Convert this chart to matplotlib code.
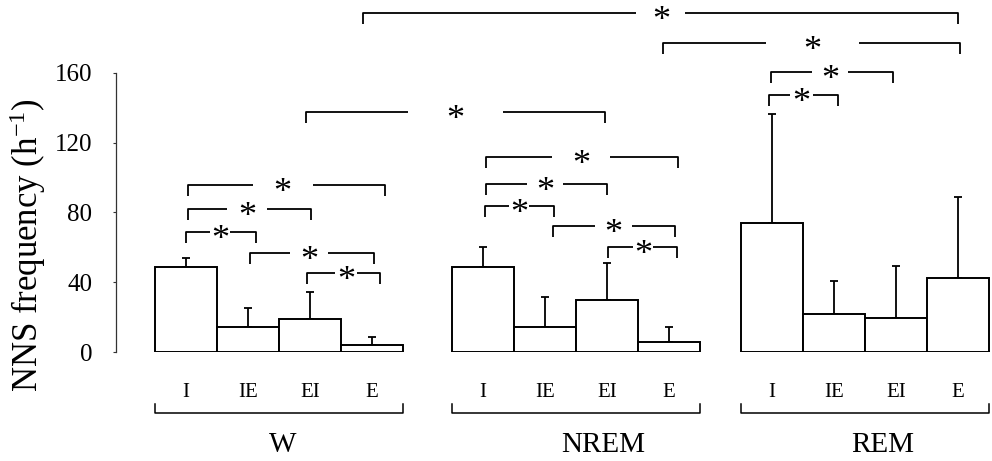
import matplotlib
matplotlib.use('Agg')
import matplotlib.pyplot as plt
import numpy as np

# データ
states = ['W', 'NREM', 'REM']
phases = ['I', 'IE', 'EI', 'E']
w_mean = [48.7, 14.3, 18.9, 4.0]
w_sd = [5.2, 10.9, 15.5, 4.6]
nrem_mean = [48.7, 14.3, 29.8, 5.7]
nrem_sd = [11.5, 17.2, 21.2, 8.6]
rem_mean = [74.0, 21.8, 19.5, 42.4]
rem_sd = [62.5, 18.9, 29.8, 46.5]
y_ticks = [0, 40, 80, 120, 160]

# 有意差ブラケット: (bar a, bar b, height)
comparisons = [
    (0, 1, 68.8), (0, 2, 82.0), (0, 3, 95.8), (1, 3, 56.8), (2, 3, 45.3),
    (2, 6, 137.6),
    (4, 7, 111.8), (4, 6, 96.3), (4, 5, 83.7), (5, 7, 72.2), (6, 7, 60.2),
    (8, 9, 147.4), (8, 10, 160.6), (7, 11, 177.2), (3, 11, 194.4),
]
# 描画用の微調整: (left offset, right offset, star x, gap width)
bracket_layout = [
    (0.0, 0.13, 1.68, 0.32), (0.03, 0.02, 2.11, 0.65), (0.03, 0.21, 2.69, 0.97),
    (0.03, 0.03, 3.11, 0.61), (-0.05, 0.12, 3.71, 0.35),
    (-0.07, -0.03, 5.47, 1.53),
    (0.05, 0.14, 7.50, 0.94), (0.05, 0.0, 6.92, 0.58), (0.03, 0.14, 6.50, 0.31),
    (0.13, 0.10, 8.02, 0.60), (0.02, 0.13, 8.50, 0.32),
    (-0.05, 0.06, 11.05, 0.37), (-0.02, -0.05, 11.52, 0.58),
    (-0.10, 0.03, 11.23, 1.50), (-0.15, 0.0, 8.79, 0.79),
]

plt.rcParams['font.family'] = ['Liberation Serif', 'DejaVu Serif']
plt.rcParams['mathtext.fontset'] = 'custom'
plt.rcParams['mathtext.rm'] = 'Liberation Serif'
plt.rcParams['mathtext.default'] = 'regular'

fig = plt.figure(figsize=(9.92, 4.61), dpi=100)
ax = fig.add_axes([116 / 992, 109 / 461, 876 / 992, 352 / 461])

group_start = [1.13, 5.92, 10.58]
means = [w_mean, nrem_mean, rem_mean]
sds = [w_sd, nrem_sd, rem_sd]

positions = []
for g in range(len(states)):
    x = group_start[g] + np.arange(len(phases))
    positions.extend(x)
    ax.bar(x, means[g], width=1.0, color='white', edgecolor='black', linewidth=1.4, zorder=2)
    ax.errorbar(x, means[g], yerr=[np.zeros(len(phases)), sds[g]], fmt='none',
                ecolor='black', elinewidth=1.3, capsize=3, capthick=1.3, zorder=1)
positions = np.array(positions)

lw = 1.3
tick_h = 6.5
for (a, b, h), (dl, dr, sx, gap) in zip(comparisons, bracket_layout):
    xl = positions[a] + dl
    xr = positions[b] + dr
    ax.plot([xl, xl, sx - gap / 2], [h - tick_h, h, h], color='black', lw=lw,
            clip_on=False, solid_capstyle='butt')
    ax.plot([sx + gap / 2, xr, xr], [h, h, h - tick_h], color='black', lw=lw,
            clip_on=False, solid_capstyle='butt')
    ax.text(sx, h - 5.0, '*', ha='center', va='center', fontsize=26, clip_on=False)

# 下部のラベルとブラケット
for g, state in enumerate(states):
    x = group_start[g] + np.arange(len(phases))
    for xi, p in zip(x, phases):
        ax.text(xi, -23.5, p, ha='center', va='center', fontsize=15, clip_on=False)
    xl, xr = x[0] - 0.5, x[-1] + 0.5
    ax.plot([xl, xl, xr, xr], [-30, -35, -35, -30], color='black', lw=1.1, clip_on=False)

label_x = [2.69, 7.85, 12.37]
for lx, state in zip(label_x, states):
    ax.text(lx, -53.5, state, ha='center', va='center', fontsize=21, clip_on=False)

ax.set_xlim(0, 876 / 62)
ax.set_ylim(0, 352 / 1.744)
for s in ['top', 'right', 'bottom']:
    ax.spines[s].set_visible(False)
ax.spines['left'].set_bounds(0, 160)
ax.spines['left'].set_color('#333333')
ax.spines['left'].set_linewidth(0.9)
ax.set_xticks([])
ax.set_yticks(y_ticks)
ax.tick_params(axis='y', length=2, width=0.8, pad=15, labelsize=18, color='#333333')
ax.patch.set_alpha(0)

fig.text(28 / 992, 1 - 245 / 461, r'NNS frequency (h$^{-1}$)', rotation=90,
         ha='center', va='center', fontsize=25)

fig.savefig('out.png', dpi=100)
